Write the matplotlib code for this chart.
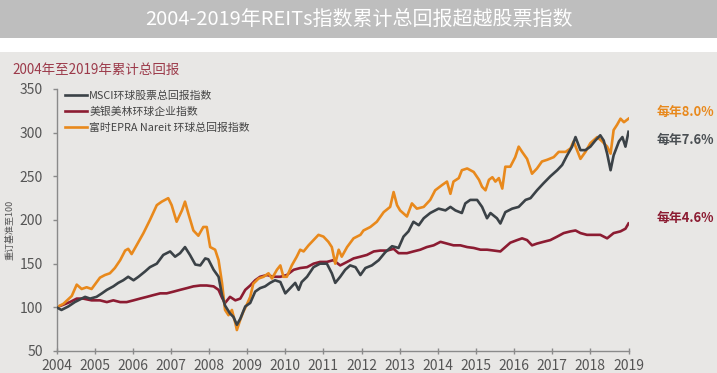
import matplotlib
matplotlib.use("Agg")
import matplotlib.pyplot as plt
from matplotlib.patches import Rectangle

plt.rcParams['font.family'] = ['Noto Sans CJK SC', 'DejaVu Sans']

# ---------------- data ----------------
title = "2004-2019年REITs指数累计总回报超越股票指数"
subtitle = "2004年至2019年累计总回报"
ylabel = "重订基准至100"
series_names = ["MSCI环球股票总回报指数", "美银美林环球企业指数", "富时EPRA Nareit 环球总回报指数"]
annual_labels = ["每年7.6%", "每年4.6%", "每年8.0%"]
year_ticks = list(range(2004, 2020))
y_ticks = [50, 100, 150, 200, 250, 300, 350]

msci_t = [2004.00, 2004.13, 2004.31, 2004.48, 2004.66, 2004.75, 2004.88, 2005.05, 2005.19, 2005.32,
          2005.49, 2005.62, 2005.75, 2005.88, 2006.02, 2006.15, 2006.32, 2006.45, 2006.63, 2006.80,
          2006.98, 2007.11, 2007.24, 2007.37, 2007.50, 2007.64, 2007.77, 2007.90, 2007.98, 2008.12,
          2008.25, 2008.34, 2008.42, 2008.55, 2008.64, 2008.73, 2008.82, 2008.95, 2009.08, 2009.21,
          2009.34, 2009.47, 2009.60, 2009.73, 2009.87, 2010.00, 2010.13, 2010.26, 2010.35, 2010.43,
          2010.57, 2010.74, 2010.91, 2011.09, 2011.22, 2011.31, 2011.44, 2011.57, 2011.70, 2011.84,
          2011.97, 2012.10, 2012.27, 2012.45, 2012.62, 2012.80, 2012.97, 2013.10, 2013.23, 2013.36,
          2013.50, 2013.63, 2013.80, 2014.02, 2014.20, 2014.33, 2014.46, 2014.63, 2014.72, 2014.85,
          2015.03, 2015.16, 2015.29, 2015.38, 2015.55, 2015.64, 2015.77, 2015.95, 2016.12, 2016.30,
          2016.43, 2016.60, 2016.77, 2016.95, 2017.13, 2017.26, 2017.39, 2017.52, 2017.61, 2017.74,
          2017.87, 2018.00, 2018.13, 2018.26, 2018.35, 2018.44, 2018.53, 2018.61, 2018.75, 2018.84,
          2018.92, 2019.00]
msci_v = [100, 97, 101, 106, 110, 112, 110, 112, 116, 120,
          124, 128, 131, 135, 131, 135, 141, 146, 150, 160,
          164, 158, 162, 169, 160, 149, 148, 156, 155, 143,
          135, 114, 102, 93, 89, 80, 87, 101, 105, 118,
          122, 124, 128, 131, 129, 116, 122, 128, 120, 129,
          135, 146, 150, 150, 139, 128, 135, 143, 148, 146,
          137, 145, 148, 154, 163, 170, 168, 181, 187, 198,
          194, 202, 208, 213, 211, 215, 211, 208, 219, 223,
          223, 215, 202, 208, 202, 196, 209, 213, 215, 223,
          225, 234, 242, 250, 257, 263, 274, 284, 295, 280,
          280, 284, 291, 297, 291, 276, 257, 274, 290, 295,
          284, 301]

bond_t = [2004.00, 2004.18, 2004.35, 2004.53, 2004.70, 2004.92, 2005.14, 2005.32, 2005.49, 2005.67,
          2005.84, 2006.02, 2006.19, 2006.37, 2006.54, 2006.72, 2006.89, 2007.07, 2007.24, 2007.42,
          2007.59, 2007.77, 2007.94, 2008.12, 2008.25, 2008.34, 2008.42, 2008.55, 2008.69, 2008.82,
          2008.95, 2009.08, 2009.21, 2009.34, 2009.52, 2009.69, 2009.87, 2010.04, 2010.22, 2010.39,
          2010.57, 2010.74, 2010.91, 2011.09, 2011.26, 2011.44, 2011.62, 2011.79, 2011.97, 2012.14,
          2012.32, 2012.49, 2012.67, 2012.84, 2012.97, 2013.19, 2013.36, 2013.54, 2013.71, 2013.89,
          2014.07, 2014.24, 2014.41, 2014.59, 2014.77, 2014.94, 2015.12, 2015.29, 2015.47, 2015.64,
          2015.77, 2015.90, 2016.08, 2016.21, 2016.34, 2016.47, 2016.60, 2016.77, 2016.95, 2017.13,
          2017.30, 2017.48, 2017.61, 2017.74, 2017.91, 2018.09, 2018.26, 2018.44, 2018.61, 2018.79,
          2018.92, 2019.00]
bond_v = [100, 103, 106, 110, 110, 108, 108, 106, 108, 106,
          106, 108, 110, 112, 114, 116, 116, 118, 120, 122,
          124, 125, 125, 124, 120, 111, 105, 112, 108, 110,
          120, 125, 131, 135, 137, 135, 135, 137, 143, 145,
          146, 150, 152, 152, 154, 148, 152, 156, 158, 160,
          164, 165, 165, 167, 162, 162, 164, 166, 169, 171,
          175, 173, 171, 171, 169, 168, 166, 166, 165, 164,
          169, 174, 177, 179, 177, 171, 173, 175, 177, 181,
          185, 187, 188, 185, 183, 183, 183, 179, 185, 187,
          190, 196]

reit_t = [2004.00, 2004.18, 2004.40, 2004.53, 2004.66, 2004.79, 2004.92, 2005.14, 2005.27, 2005.40,
          2005.53, 2005.67, 2005.80, 2005.88, 2005.97, 2006.10, 2006.28, 2006.45, 2006.63, 2006.76,
          2006.93, 2007.02, 2007.15, 2007.29, 2007.37, 2007.46, 2007.59, 2007.72, 2007.85, 2007.94,
          2008.03, 2008.16, 2008.25, 2008.34, 2008.42, 2008.51, 2008.60, 2008.69, 2008.73, 2008.82,
          2008.90, 2008.99, 2009.08, 2009.16, 2009.30, 2009.43, 2009.56, 2009.65, 2009.78, 2009.87,
          2009.95, 2010.04, 2010.17, 2010.30, 2010.39, 2010.48, 2010.61, 2010.74, 2010.87, 2011.00,
          2011.13, 2011.22, 2011.31, 2011.40, 2011.48, 2011.62, 2011.79, 2011.97, 2012.05, 2012.23,
          2012.40, 2012.58, 2012.75, 2012.84, 2012.93, 2013.01, 2013.19, 2013.32, 2013.45, 2013.63,
          2013.80, 2013.93, 2014.11, 2014.24, 2014.33, 2014.41, 2014.55, 2014.63, 2014.77, 2014.94,
          2015.08, 2015.16, 2015.25, 2015.34, 2015.43, 2015.51, 2015.60, 2015.69, 2015.77, 2015.90,
          2016.03, 2016.12, 2016.21, 2016.34, 2016.47, 2016.60, 2016.73, 2016.87, 2017.04, 2017.17,
          2017.35, 2017.48, 2017.56, 2017.65, 2017.74, 2017.87, 2018.00, 2018.18, 2018.31, 2018.44,
          2018.53, 2018.61, 2018.70, 2018.79, 2018.88, 2019.00]
reit_v = [100, 104, 113, 126, 121, 123, 121, 134, 137, 139,
          145, 154, 165, 167, 161, 171, 185, 200, 217, 221,
          225, 217, 198, 211, 221, 207, 188, 182, 192, 192,
          169, 166, 154, 128, 97, 91, 97, 82, 74, 86,
          95, 103, 112, 127, 133, 135, 139, 133, 143, 148,
          135, 135, 148, 158, 166, 164, 171, 177, 183, 181,
          175, 169, 150, 166, 158, 169, 179, 183, 188, 192,
          198, 209, 215, 232, 217, 211, 204, 219, 213, 215,
          223, 234, 240, 244, 230, 244, 248, 257, 259, 255,
          246, 238, 234, 246, 249, 244, 248, 236, 261, 261,
          272, 284, 278, 270, 253, 259, 267, 269, 272, 278,
          278, 282, 290, 280, 270, 278, 288, 295, 290, 284,
          276, 303, 309, 316, 312, 316]

# ---------------- styling ----------------
c_msci = '#3b4247'
c_bond = '#8c1c32'
c_reit = '#e8891c'
bg = '#e8e7e5'

W, H = 717, 373
fig = plt.figure(figsize=(W / 100, H / 100), dpi=100, facecolor=bg)

# title band and white gap
fig.patches.append(Rectangle((0, 1 - 38 / H), 1, 38 / H, transform=fig.transFigure,
                             facecolor='#bebebe', edgecolor='none', zorder=0))
fig.patches.append(Rectangle((0, 1 - 52 / H), 1, 14 / H, transform=fig.transFigure,
                             facecolor='white', edgecolor='none', zorder=0))
fig.text(0.5, 1 - 19 / H, title, color='white', fontsize=14.4, ha='center', va='center')
fig.text(12 / W, 1 - 70 / H, subtitle, color='#9c3a4a', fontsize=9.7, ha='left', va='center')

ax = fig.add_axes([56.5 / W, 1 - 351 / H, (628.5 - 56.5) / W, (351 - 89) / H])
ax.set_facecolor(bg)

ax.plot(msci_t, msci_v, color=c_msci, lw=1.9, label=series_names[0], zorder=3)
ax.plot(bond_t, bond_v, color=c_bond, lw=1.9, label=series_names[1], zorder=2)
ax.plot(reit_t, reit_v, color=c_reit, lw=1.9, label=series_names[2], zorder=2.5)

ax.set_xlim(2004, 2019)
ax.set_ylim(50, 350)
ax.set_xticks(year_ticks)
ax.set_xticklabels([str(y) for y in year_ticks])
ax.set_yticks(y_ticks)

for s in ['top', 'right']:
    ax.spines[s].set_visible(False)
for s in ['left', 'bottom']:
    ax.spines[s].set_color('#8a8a8a')
    ax.spines[s].set_linewidth(1.0)
ax.tick_params(axis='y', direction='out', length=3, width=1, color='#8a8a8a',
               labelcolor='#555555', labelsize=10, pad=7)
ax.tick_params(axis='x', direction='inout', length=5, width=1, color='#8a8a8a',
               labelcolor='#555555', labelsize=10, pad=3)

leg = ax.legend(loc='upper left', bbox_to_anchor=(8.5 / 572, 0.995), frameon=False,
                borderpad=0, borderaxespad=0, handlelength=2.0, handletextpad=0.25,
                labelspacing=0.55, fontsize=7.8)
for t in leg.get_texts():
    t.set_color('#444444')

fig.text(10 / W, 1 - 230 / H, ylabel, rotation=90, fontsize=6.5, color='#555555',
         ha='center', va='center')

fig.text(657 / W, 1 - 112 / H, annual_labels[2], color=c_reit, fontsize=9.3,
         fontweight='bold', ha='left', va='center')
fig.text(657 / W, 1 - 140 / H, annual_labels[0], color='#4a4f53', fontsize=9.3,
         fontweight='bold', ha='left', va='center')
fig.text(657 / W, 1 - 218 / H, annual_labels[1], color=c_bond, fontsize=9.3,
         fontweight='bold', ha='left', va='center')

fig.savefig('out.png', dpi=100, facecolor=fig.get_facecolor())
